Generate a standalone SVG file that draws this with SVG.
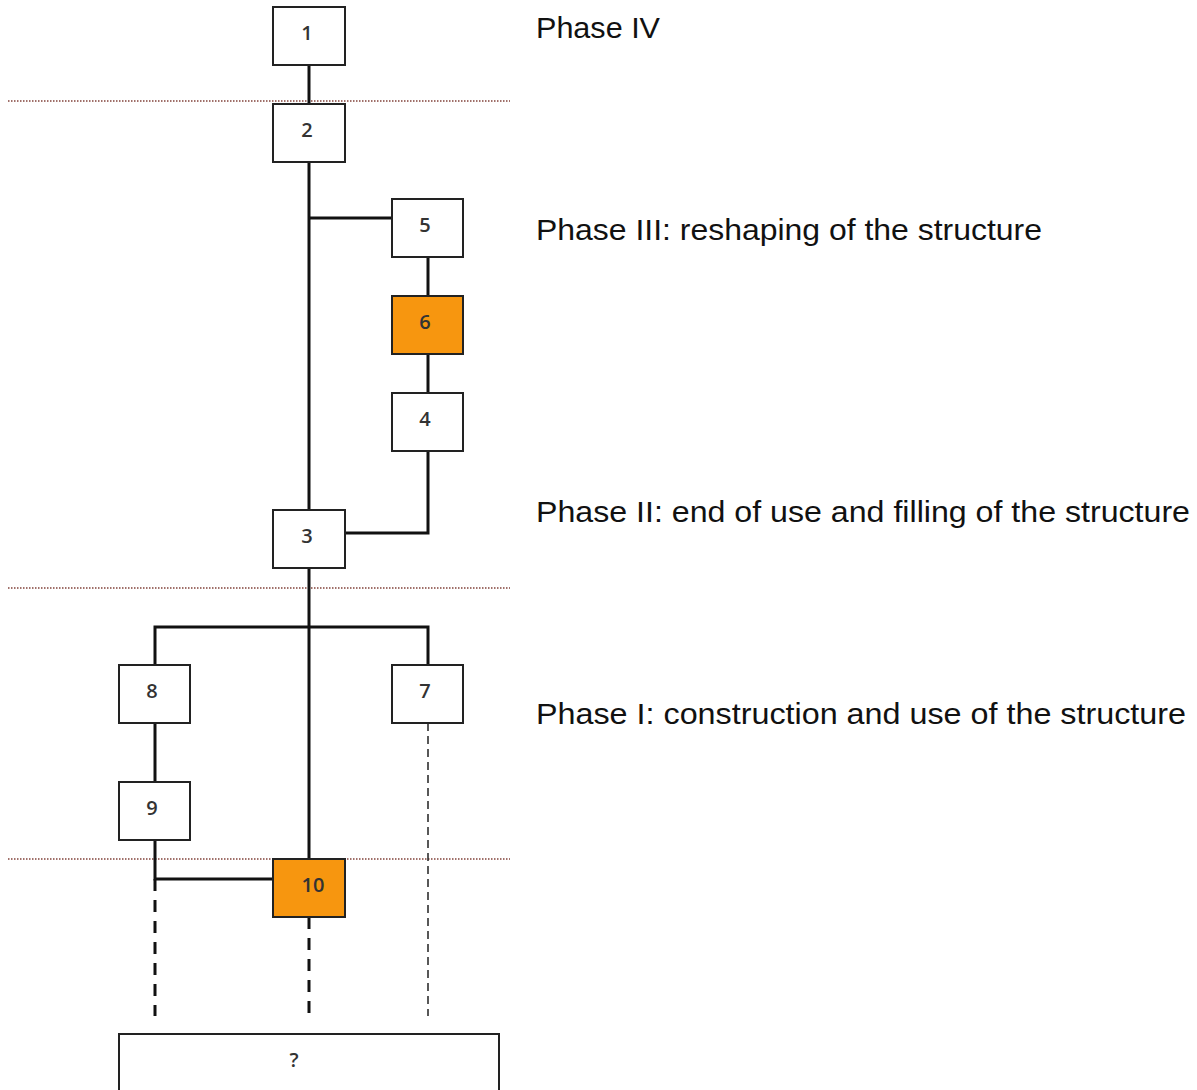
<svg xmlns="http://www.w3.org/2000/svg" width="1197" height="1090" viewBox="0 0 1197 1090">
<style>
.box{fill:#fff;stroke:#222;stroke-width:2}
.hl{fill:#f7960f;stroke:#222;stroke-width:2}
.lbl{font-family:"Open Sans","Liberation Sans",sans-serif;font-size:20px;font-weight:600;fill:#333;text-anchor:middle;dominant-baseline:central}
.ph{font-family:"Liberation Sans",Arial,sans-serif;font-size:29px;fill:#111}
.ln{stroke:#111;stroke-width:3;fill:none}
.dsh{stroke:#111;stroke-width:3;fill:none;stroke-dasharray:12 9}
.dsh2{stroke:#222;stroke-width:1.5;fill:none;stroke-dasharray:8 5}
.dot{stroke:#a0706a;stroke-width:2;stroke-dasharray:1.5 1.5;fill:none}
</style>
<rect width="1197" height="1090" fill="#fff"/>
<g id="phase-lines">
<line class="dot" x1="8" y1="101" x2="510" y2="101"/>
<line class="dot" x1="8" y1="588" x2="510" y2="588"/>
<line class="dot" x1="8" y1="859" x2="510" y2="859"/>
</g>
<g id="connectors">
<line class="ln" x1="309" y1="65" x2="309" y2="104"/>
<line class="ln" x1="309" y1="162" x2="309" y2="510"/>
<line class="ln" x1="309" y1="218" x2="392" y2="218"/>
<line class="ln" x1="428" y1="257" x2="428" y2="296"/>
<line class="ln" x1="428" y1="354" x2="428" y2="393"/>
<polyline class="ln" points="428,451 428,533 345,533"/>
<line class="ln" x1="309" y1="568" x2="309" y2="859"/>
<polyline class="ln" points="155,665 155,627 428,627 428,665"/>
<line class="ln" x1="155" y1="723" x2="155" y2="782"/>
<polyline class="ln" points="155,840 155,879 273,879"/>
<line class="dsh" x1="155" y1="879" x2="155" y2="1016"/>
<line class="dsh" x1="309" y1="917" x2="309" y2="1016"/>
<line class="dsh2" x1="428" y1="723" x2="428" y2="1016"/>
</g>
<g id="n1"><rect class="box" x="273" y="7" width="72" height="58"/><text class="lbl" x="307" y="32">1</text></g>
<g id="n2"><rect class="box" x="273" y="104" width="72" height="58"/><text class="lbl" x="307" y="129">2</text></g>
<g id="n5"><rect class="box" x="392" y="199" width="71" height="58"/><text class="lbl" x="425" y="224">5</text></g>
<g id="n6"><rect class="hl" x="392" y="296" width="71" height="58"/><text class="lbl" x="425" y="321">6</text></g>
<g id="n4"><rect class="box" x="392" y="393" width="71" height="58"/><text class="lbl" x="425" y="418">4</text></g>
<g id="n3"><rect class="box" x="273" y="510" width="72" height="58"/><text class="lbl" x="307" y="535">3</text></g>
<g id="n8"><rect class="box" x="119" y="665" width="71" height="58"/><text class="lbl" x="152" y="690">8</text></g>
<g id="n7"><rect class="box" x="392" y="665" width="71" height="58"/><text class="lbl" x="425" y="690">7</text></g>
<g id="n9"><rect class="box" x="119" y="782" width="71" height="58"/><text class="lbl" x="152" y="807">9</text></g>
<g id="n10"><rect class="hl" x="273" y="859" width="72" height="58"/><text class="lbl" x="313" y="884">10</text></g>
<g id="nq"><rect class="box" x="119" y="1034" width="380" height="70"/><text class="lbl" x="294" y="1059">?</text></g>
<g id="phases">
<text class="ph" x="536" y="38" textLength="124" lengthAdjust="spacingAndGlyphs">Phase IV</text>
<text class="ph" x="536" y="240" textLength="506" lengthAdjust="spacingAndGlyphs">Phase III: reshaping of the structure</text>
<text class="ph" x="536" y="522" textLength="654" lengthAdjust="spacingAndGlyphs">Phase II: end of use and filling of the structure</text>
<text class="ph" x="536" y="724" textLength="650" lengthAdjust="spacingAndGlyphs">Phase I: construction and use of the structure</text>
</g>
</svg>
